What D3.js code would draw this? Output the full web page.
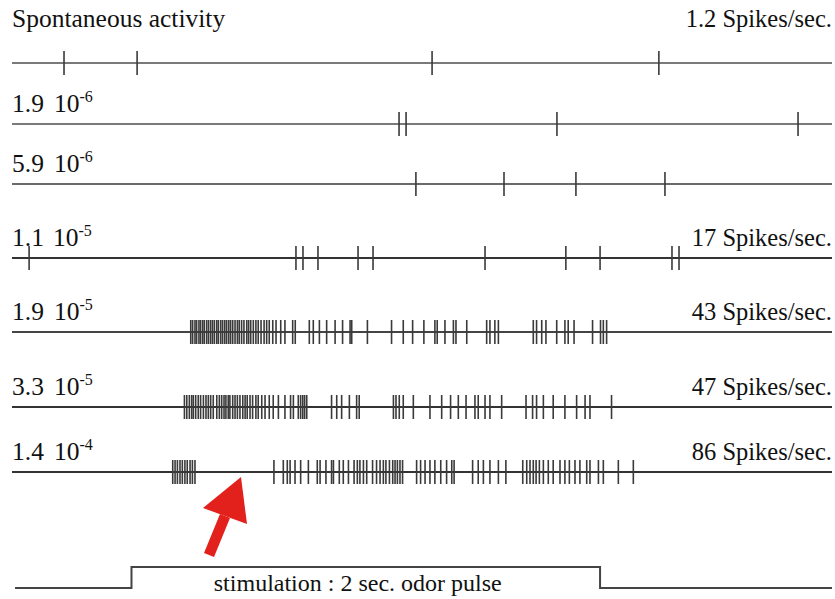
<!DOCTYPE html>
<html>
<head>
<meta charset="utf-8">
<script src="https://cdn.jsdelivr.net/npm/d3@7"></script>
<style>
  body { margin: 0; background: #fff; }
</style>
</head>
<body>
<svg class="chart"></svg>
<script>
// spike times in seconds (0 = start of the record)
var rowLabels = ["Spontaneous activity", "1.9", "5.9", "1.1", "1.9", "3.3", "1.4"];
var rowExponents = [null, "-6", "-6", "-5", "-5", "-5", "-4"];
var rowRates = ["1.2 Spikes/sec.", "", "", "17 Spikes/sec.", "43 Spikes/sec.", "47 Spikes/sec.", "86 Spikes/sec."];

var spikes0 = [0.222, 0.534, 1.793, 2.761];
var spikes1 = [1.652, 1.682, 2.326, 3.355];
var spikes2 = [1.724, 2.100, 2.407, 2.787];
var spikes3 = [0.073, 1.212, 1.242, 1.306, 1.477, 1.541, 2.019, 2.364, 2.510, 2.817, 2.847];
var spikes4 = [0.763, 0.771, 0.781, 0.788, 0.798, 0.805, 0.814, 0.821, 0.831, 0.839, 0.848, 0.856,
  0.864, 0.874, 0.881, 0.891, 0.899, 0.908, 0.916, 0.925, 0.933, 0.942, 0.952, 0.962, 0.970, 0.980,
  0.990, 1.002, 1.010, 1.019, 1.030, 1.041, 1.051, 1.063, 1.076, 1.087, 1.098, 1.113, 1.127, 1.147,
  1.165, 1.198, 1.209, 1.269, 1.286, 1.312, 1.343, 1.379, 1.411, 1.443, 1.450, 1.517, 1.620, 1.670,
  1.710, 1.758, 1.805, 1.815, 1.848, 1.884, 1.895, 1.941, 2.026, 2.040, 2.061, 2.076, 2.225, 2.239,
  2.261, 2.279, 2.325, 2.360, 2.374, 2.399, 2.478, 2.512, 2.524, 2.538];
var spikes5 = [0.736, 0.746, 0.757, 0.767, 0.774, 0.784, 0.795, 0.805, 0.817, 0.828, 0.838, 0.848,
  0.859, 0.874, 0.885, 0.895, 0.905, 0.913, 0.923, 0.930, 0.942, 0.952, 0.962, 0.973, 0.985, 0.995,
  1.004, 1.016, 1.027, 1.041, 1.051, 1.066, 1.080, 1.098, 1.115, 1.137, 1.165, 1.189, 1.201, 1.222,
  1.232, 1.241, 1.249, 1.258, 1.364, 1.386, 1.407, 1.440, 1.471, 1.482, 1.628, 1.639, 1.653, 1.670,
  1.713, 1.784, 1.834, 1.872, 1.905, 1.938, 1.976, 1.990, 2.019, 2.040, 2.090, 2.194, 2.222, 2.239,
  2.268, 2.310, 2.360, 2.410, 2.446, 2.467, 2.559];
var spikes6 = [0.686, 0.696, 0.706, 0.717, 0.727, 0.738, 0.748, 0.760, 0.770, 0.781,
  1.118, 1.158, 1.175, 1.187, 1.208, 1.232, 1.265, 1.303, 1.315, 1.340, 1.364, 1.372, 1.397, 1.414,
  1.436, 1.460, 1.474, 1.485, 1.500, 1.514, 1.539, 1.556, 1.571, 1.585, 1.596, 1.611, 1.625, 1.635,
  1.645, 1.656, 1.667, 1.727, 1.744, 1.763, 1.784, 1.805, 1.830, 1.855, 1.877, 1.887, 1.966, 1.990,
  2.012, 2.040, 2.076, 2.108, 2.180, 2.197, 2.211, 2.225, 2.237, 2.251, 2.268, 2.289, 2.310, 2.339,
  2.360, 2.379, 2.403, 2.424, 2.453, 2.467, 2.503, 2.524, 2.588, 2.652];
var allSpikes = [spikes0, spikes1, spikes2, spikes3, spikes4, spikes5, spikes6];

// odor pulse: on at 0.51 s, 2 s long
var stimOn = 0.51, stimOff = 2.51;
var recordLength = 3.5;

var width = 835, height = 599;
var rowY = [63, 124, 184, 258, 332, 407, 472];
var lineColor = ["#7a7a7a", "#7a7a7a", "#6a6a6a", "#333", "#444", "#333", "#333"];

var x = d3.scaleLinear()
    .domain([0, recordLength])
    .range([12, 832]);

var svg = d3.select(".chart")
    .attr("width", width)
    .attr("height", height);

var row = svg.selectAll(".row")
    .data(allSpikes)
  .enter().append("g")
    .attr("class", "row")
    .attr("transform", function(d, i){ return "translate(0," + rowY[i] + ")"; });

// base line of each record
row.append("line")
    .attr("x1", x(0))
    .attr("x2", x(recordLength))
    .attr("stroke", function(d, i){ return lineColor[i]; })
    .attr("stroke-width", 2);

// one tick per spike
row.selectAll(".spike")
    .data(function(d){ return d; })
  .enter().append("line")
    .attr("class", "spike")
    .attr("x1", function(d){ return x(d); })
    .attr("x2", function(d){ return x(d); })
    .attr("y1", -12)
    .attr("y2", 12)
    .attr("stroke", "#3a3a3a")
    .attr("stroke-width", 1.6);

// concentration label on the left
var lab = row.append("text")
    .attr("x", 12)
    .attr("y", function(d, i){ return i == 0 ? -36 : -12; })
    .attr("font-family", "Liberation Serif")
    .attr("font-size", 25.5)
    .attr("fill", "#111");
lab.append("tspan")
    .text(function(d, i){ return rowLabels[i]; });
lab.append("tspan")
    .attr("dx", 10)
    .text(function(d, i){ return rowExponents[i] ? "10" : ""; });
lab.append("tspan")
    .attr("dy", -10)
    .attr("font-size", 16)
    .text(function(d, i){ return rowExponents[i] || ""; });

// firing rate on the right
row.append("text")
    .attr("x", 832)
    .attr("y", function(d, i){ return i == 0 ? -36 : -12; })
    .attr("text-anchor", "end")
    .attr("font-family", "Liberation Serif")
    .attr("font-size", 24.5)
    .attr("fill", "#111")
    .text(function(d, i){ return rowRates[i]; });

// stimulus trace
var stimLow = 588, stimHigh = 567;
var stim = d3.line()
    .x(function(d){ return x(d[0]); })
    .y(function(d){ return d[1]; });
svg.append("path")
    .attr("d", stim([[0.013, stimLow], [stimOn, stimLow], [stimOn, stimHigh],
                     [stimOff, stimHigh], [stimOff, stimLow], [recordLength, stimLow]]))
    .attr("fill", "none")
    .attr("stroke", "#444")
    .attr("stroke-width", 2);

svg.append("text")
    .attr("x", (x(stimOn) + x(stimOff)) / 2 - 8)
    .attr("y", 591)
    .attr("text-anchor", "middle")
    .attr("font-family", "Liberation Serif")
    .attr("font-size", 24)
    .attr("fill", "#111")
    .text("stimulation : 2 sec. odor pulse");

// red arrow pointing at the gap after the first burst
var arrow = svg.append("g").attr("fill", "#e3211c");
arrow.append("path")
    .attr("d", "M241,477 L203,508 L247,524 Z");
arrow.append("path")
    .attr("d", "M220,514 L230,518 L214,557 L204,553 Z");
</script>
</body>
</html>
